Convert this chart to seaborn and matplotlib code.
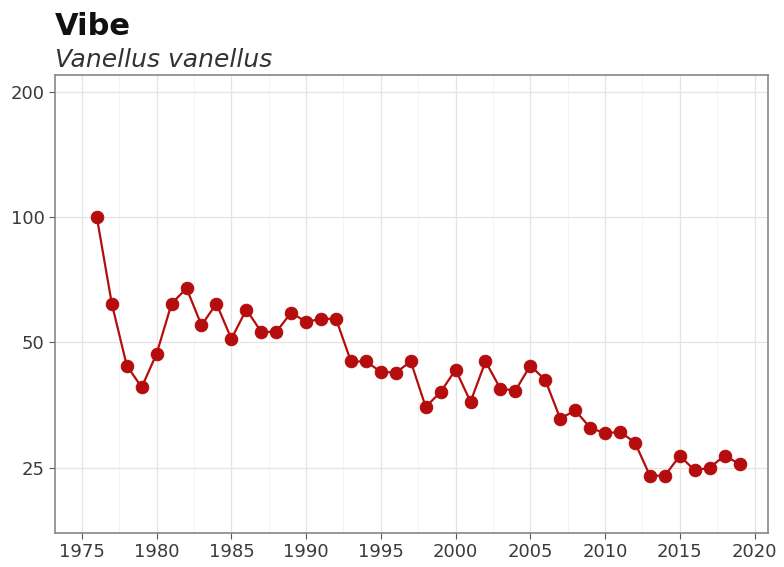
import matplotlib.pyplot as plt
import matplotlib.ticker as mticker
import seaborn as sns
import pandas as pd

# Index values (1976 = 100)
years = list(range(1976, 2020))
index = [100, 62, 44, 39, 47, 62, 67.5, 55, 62, 51,
         60, 53, 53, 59, 56, 57, 57, 45, 45, 42.5,
         42.3, 45, 35, 38, 43, 36, 45, 38.7, 38.3, 44,
         40.6, 32.8, 34.3, 31.2, 30.2, 30.5, 28.7, 23.9, 23.9, 26.7,
         24.6, 25, 26.7, 25.5]
y_ticks = [25, 50, 100, 200]
x_ticks = list(range(1975, 2021, 5))

df = pd.DataFrame({'year': years, 'index': index})

sns.set_style('white')
plt.rcParams['font.family'] = ['DejaVu Sans']

fig = plt.figure(figsize=(7.84, 5.67), dpi=100)
ax = fig.add_axes([55 / 784, 1 - 533 / 567, (768 - 55) / 784, (533 - 75) / 567])

red = '#b50d0d'
sns.lineplot(data=df, x='year', y='index', ax=ax, color=red, linewidth=1.6,
             marker='o', markersize=9, markeredgecolor=red, markerfacecolor=red)

ax.set_yscale('log')
ax.set_ylim(17.4, 220)
ax.set_xlim(1973.2, 2020.9)
ax.yaxis.set_major_locator(mticker.FixedLocator(y_ticks))
ax.yaxis.set_major_formatter(mticker.FixedFormatter([str(t) for t in y_ticks]))
ax.yaxis.set_minor_locator(mticker.NullLocator())
ax.set_xticks(x_ticks)
ax.xaxis.set_minor_locator(mticker.MultipleLocator(2.5))

ax.grid(True, which='major', color='#e4e4e4', linewidth=0.9)
ax.grid(True, which='minor', axis='x', color='#f2f2f2', linewidth=0.6)
ax.set_axisbelow(True)

for s in ax.spines.values():
    s.set_color('#888888')
    s.set_linewidth(1.2)

ax.tick_params(axis='both', which='major', labelsize=13, length=4,
               color='#555555', labelcolor='#3a3a3a', direction='out')
ax.tick_params(axis='x', which='minor', length=0)
ax.tick_params(left=True, bottom=True)
ax.set_xlabel('')
ax.set_ylabel('')

fig.text(55 / 784, 1 - 35 / 567, 'Vibe', fontsize=22, fontweight='bold',
         va='baseline', ha='left', color='#111111')
fig.text(55 / 784, 1 - 67 / 567, 'Vanellus vanellus', fontsize=18, style='italic',
         va='baseline', ha='left', color='#333333')

fig.savefig('out.png', dpi=100)
